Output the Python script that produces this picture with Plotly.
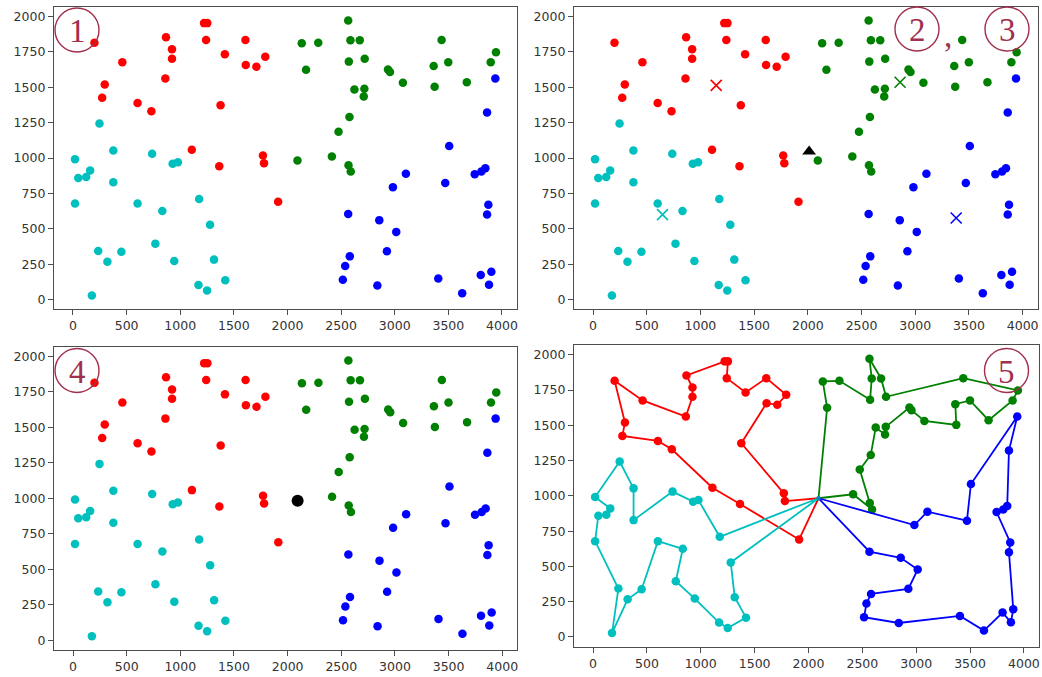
import plotly.graph_objects as go

# ---------------- data (route order inside each cluster) ----------------
depot_x = [2093]
depot_y = [983]

red_x = [1913, 1364, 1108, 731, 602, 272, 296, 200, 460, 861, 923, 923, 867, 1222, 1252,
         1241, 1416, 1608, 1793, 1710, 1611, 1376, 1771, 1781]
red_y = [691, 942, 1058, 1330, 1389, 1425, 1520, 1815, 1676, 1562, 1702, 1768, 1853, 1953, 1953,
         1834, 1733, 1834, 1716, 1645, 1657, 1373, 1018, 963]

cyan_x = [1176, 978, 929, 738, 376, 376, 247, 19, 160, 123, 49, 19, 235, 176, 321, 451, 602,
          833, 768, 944, 1170, 1250, 1420, 1315, 1278]
cyan_y = [710, 970, 959, 1030, 828, 1053, 1243, 992, 911, 866, 859, 679, 343, 28, 267, 338, 679,
          625, 395, 272, 102, 64, 137, 282, 528]

green_x = [2414, 2590, 2569, 2476, 2578, 2624, 2711, 2717, 2937, 2956, 3076, 3372, 3363, 3499,
           3672, 3895, 3944, 3437, 2720, 2674, 2566, 2587, 2572, 2287, 2133, 2173]
green_y = [1011, 904, 949, 1186, 1290, 1484, 1434, 1489, 1626, 1607, 1531, 1503, 1650, 1676,
           1536, 1676, 1747, 1834, 1702, 1832, 1972, 1832, 1681, 1815, 1811, 1624]

blue_x = [2983, 3104, 3471, 3508, 3938, 3861, 3845, 3808, 3746, 3873, 3861, 3901, 3879, 3802,
          3629, 3406, 2838, 2516, 2538, 2581, 2927, 3014, 2856, 2566]
blue_y = [793, 888, 824, 1084, 1562, 1321, 928, 904, 885, 670, 601, 196, 104, 173,
          45, 149, 99, 140, 237, 305, 341, 478, 561, 604]

# cluster centres (x markers) and initial triangle
centre_names = ["red", "green", "cyan", "blue"]
centre_x = [1147, 2859, 647, 3381]
centre_y = [1513, 1535, 600, 576]
tri_x = [2012]
tri_y = [1046]

x_ticks = [0, 500, 1000, 1500, 2000, 2500, 3000, 3500, 4000]
y_ticks = [0, 250, 500, 750, 1000, 1250, 1500, 1750, 2000]

# ---------------- styling ----------------
COL = {"red": "#ff0000", "green": "#008000", "cyan": "#00bfbf", "blue": "#0000ff"}
W, H = 1042, 677
MS = 8.5

clusters = [("red", red_x, red_y), ("green", green_x + depot_x, green_y + depot_y),
            ("cyan", cyan_x, cyan_y), ("blue", blue_x, blue_y)]
routes = [("red", red_x, red_y), ("green", green_x, green_y),
          ("cyan", cyan_x, cyan_y), ("blue", blue_x, blue_y)]

fig = go.Figure()


def scatter_clusters(xa, ya):
    for name, xs, ys in clusters:
        fig.add_trace(go.Scatter(x=xs, y=ys, mode="markers", xaxis=xa, yaxis=ya,
                                 marker=dict(color=COL[name], size=MS, line=dict(width=0)),
                                 showlegend=False, hoverinfo="skip"))


# panel 1
scatter_clusters("x", "y")
# panel 2
scatter_clusters("x2", "y2")
for i, name in enumerate(centre_names):
    fig.add_trace(go.Scatter(x=[centre_x[i]], y=[centre_y[i]], mode="markers", xaxis="x2", yaxis="y2",
                             marker=dict(symbol="x-thin", size=11, color=COL[name],
                                         line=dict(width=1.6, color=COL[name])),
                             showlegend=False, hoverinfo="skip"))
fig.add_trace(go.Scatter(x=tri_x, y=tri_y, mode="markers", xaxis="x2", yaxis="y2",
                         marker=dict(symbol="triangle-up", size=12, color="black"),
                         showlegend=False, hoverinfo="skip"))
# panel 4
scatter_clusters("x3", "y3")
fig.add_trace(go.Scatter(x=depot_x, y=depot_y, mode="markers", xaxis="x3", yaxis="y3",
                         marker=dict(color="black", size=12),
                         showlegend=False, hoverinfo="skip"))
# panel 5 : routes
for name, xs, ys in routes:
    fig.add_trace(go.Scatter(x=depot_x + xs + depot_x, y=depot_y + ys + depot_y, mode="lines",
                             xaxis="x4", yaxis="y4", line=dict(color=COL[name], width=1.8),
                             showlegend=False, hoverinfo="skip"))
    fig.add_trace(go.Scatter(x=xs, y=ys, mode="markers", xaxis="x4", yaxis="y4",
                             marker=dict(color=COL[name], size=MS, line=dict(width=0)),
                             showlegend=False, hoverinfo="skip"))
fig.add_trace(go.Scatter(x=depot_x, y=depot_y, mode="markers", xaxis="x4", yaxis="y4",
                         marker=dict(color="#0a7fb0", size=4.5),
                         showlegend=False, hoverinfo="skip"))

# ---------------- axes ----------------
def px_dom_x(a, b):
    return [a / W, b / W]


def px_dom_y(top, bottom):
    return [1 - bottom / H, 1 - top / H]


axcommon = dict(showgrid=False, zeroline=False, showline=True, mirror=True,
                linecolor="#4d4d4d", linewidth=1.3, ticks="outside", ticklen=5,
                tickcolor="#4d4d4d", tickwidth=1,
                tickfont=dict(family="DejaVu Sans", size=12.5, color="#333333"))

panels = [
    ("", px_dom_x(54, 517), px_dom_y(6.7, 309.3)),
    ("2", px_dom_x(574, 1037.7), px_dom_y(6.7, 309.3)),
    ("3", px_dom_x(54, 517.3), px_dom_y(346.7, 650)),
    ("4", px_dom_x(574, 1039), px_dom_y(345, 646.7)),
]
for suf, dx, dy in panels:
    fig.layout["xaxis" + suf] = dict(domain=dx, range=[-177, 4140], tickvals=x_ticks,
                                     ticktext=[str(t) for t in x_ticks],
                                     anchor="y" + suf, **axcommon)
    fig.layout["yaxis" + suf] = dict(domain=dy, range=[-69, 2069], tickvals=y_ticks,
                                     ticktext=[str(t) for t in y_ticks],
                                     anchor="x" + suf, **axcommon)

# ---------------- circled numbers ----------------
LAB = "#a0304c"
labels = [("1", 77, 30), ("2", 917, 29), ("3", 1007, 29), ("4", 77, 370.5), ("5", 1006.5, 370.5)]
R = 22
shapes = []
annots = []
for txt, cx, cy in labels:
    shapes.append(dict(type="circle", xref="paper", yref="paper",
                       x0=(cx - R) / W, x1=(cx + R) / W,
                       y0=1 - (cy + R) / H, y1=1 - (cy - R) / H,
                       line=dict(color=LAB, width=1.4), fillcolor="rgba(0,0,0,0)"))
    annots.append(dict(text=txt, xref="paper", yref="paper", x=cx / W, y=1 - (cy + 1) / H,
                       xanchor="center", yanchor="middle", showarrow=False,
                       font=dict(family="Liberation Serif", size=33, color=LAB)))
annots.append(dict(text=",", xref="paper", yref="paper", x=948 / W, y=1 - 36 / H,
                   xanchor="center", yanchor="middle", showarrow=False,
                   font=dict(family="Liberation Serif", size=33, color=LAB)))

fig.update_layout(width=W, height=H, margin=dict(l=0, r=0, t=0, b=0),
                  paper_bgcolor="white", plot_bgcolor="white",
                  shapes=shapes, annotations=annots, showlegend=False)

fig.write_html("out.html")
